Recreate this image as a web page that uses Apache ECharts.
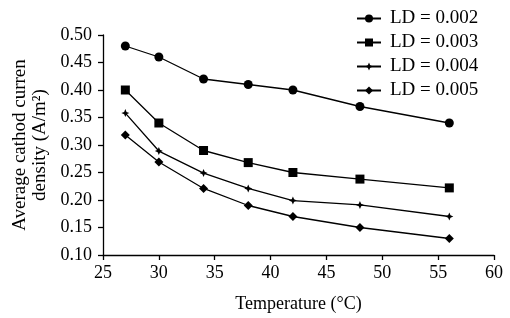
<!DOCTYPE html>
<html>
<head>
<meta charset="utf-8">
<script src="https://cdn.jsdelivr.net/npm/echarts@6/dist/echarts.min.js"></script>
<style>
    html, body { margin: 0; padding: 0; background: #fff; }
    #main { width: 510px; height: 318px; }
</style>
</head>
<body>
<div id="main"></div>
<script>
// temperature (°C)
var temps = [27, 30, 34, 38, 42, 48, 56];
var ld002 = [0.48, 0.46, 0.42, 0.41, 0.40, 0.37, 0.34];
var ld003 = [0.40, 0.34, 0.29, 0.268, 0.25, 0.238, 0.222];
var ld004 = [0.358, 0.289, 0.249, 0.221, 0.199, 0.191, 0.17];
var ld005 = [0.318, 0.269, 0.221, 0.19, 0.17, 0.15, 0.13];
var names = ['LD = 0.002', 'LD = 0.003', 'LD = 0.004', 'LD = 0.005'];

var font = 'Liberation Serif';
var star = 'path://M0,-10 L3,-3 L10,0 L3,3 L0,10 L-3,3 L-10,0 L-3,-3 Z';

function pairs(ys) {
    return temps.map(function (t, i) { return [t, ys[i]]; });
}

function mkSeries(name, ys, symbol, size) {
    return {
        name: name,
        type: 'line',
        data: pairs(ys),
        symbol: symbol,
        symbolSize: size,
        lineStyle: {color: '#000', width: 1.3},
        itemStyle: {color: '#000'},
        animation: false
    };
}

var chart = echarts.init(document.getElementById('main'));
chart.setOption({
    backgroundColor: '#fff',
    textStyle: {fontFamily: font},
    legend: {
        orient: 'vertical',
        left: 356,
        top: 9,
        padding: 0,
        itemGap: 5,
        itemWidth: 24,
        itemHeight: 10,
        textStyle: {fontFamily: font, fontSize: 19, color: '#000', padding: [0, 0, 0, 4]},
        data: names
    },
    grid: {left: 103, right: 16, top: 35, bottom: 63, outerBoundsMode: 'none'},
    xAxis: {
        type: 'value',
        min: 25,
        max: 60,
        interval: 5,
        name: 'Temperature (°C)',
        nameLocation: 'middle',
        nameGap: 40,
        nameTextStyle: {fontFamily: font, fontSize: 18, color: '#000'},
        axisLine: {lineStyle: {color: '#000', width: 1.3}},
        axisTick: {length: 5, lineStyle: {color: '#000', width: 1.3}},
        axisLabel: {fontFamily: font, fontSize: 18, color: '#000', margin: 9},
        splitLine: {show: false}
    },
    yAxis: {
        type: 'value',
        min: 0.1,
        max: 0.5,
        interval: 0.05,
        name: 'Average cathod curren\ndensity (A/m²)',
        nameLocation: 'middle',
        nameRotate: 90,
        nameGap: 50,
        nameTextStyle: {fontFamily: font, fontSize: 19, color: '#000', lineHeight: 20},
        axisLine: {show: true, lineStyle: {color: '#000', width: 1.3}},
        axisTick: {show: true, length: 5, lineStyle: {color: '#000', width: 1.3}},
        axisLabel: {
            fontFamily: font, fontSize: 18, color: '#000', margin: 11,
            formatter: function (v) { return v.toFixed(2); }
        },
        splitLine: {show: false}
    },
    series: [
        mkSeries(names[0], ld002, 'circle', 9),
        mkSeries(names[1], ld003, 'rect', 9),
        mkSeries(names[2], ld004, star, 8),
        mkSeries(names[3], ld005, 'diamond', 9)
    ]
});
</script>
</body>
</html>
